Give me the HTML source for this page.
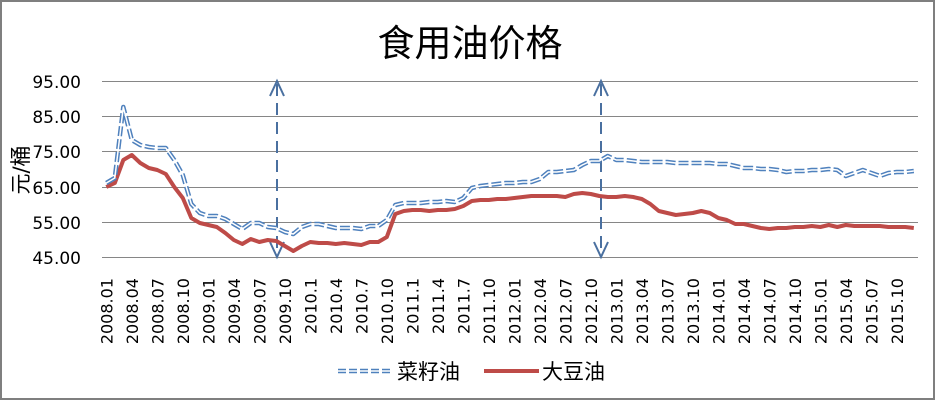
<!DOCTYPE html>
<html><head><meta charset="utf-8"><style>
html,body{margin:0;padding:0;background:#fff}
svg{display:block}
text{font-family:"DejaVu Sans","Noto Sans CJK SC",sans-serif}
</style></head><body>
<svg id="s" width="936" height="401" xmlns="http://www.w3.org/2000/svg">
<rect x="0" y="0" width="936" height="401" fill="#fff"/>
<rect x="1" y="1" width="933" height="398" fill="none" stroke="#7f7f7f" stroke-width="2"/>
<text x="470" y="56" font-size="37" text-anchor="middle" font-family="'Noto Sans CJK SC',sans-serif">食用油价格</text>
<g stroke="#868686" stroke-width="1">
<line x1="102" x2="918" y1="81.5" y2="81.5"/>
<line x1="102" x2="918" y1="116.5" y2="116.5"/>
<line x1="102" x2="918" y1="151.5" y2="151.5"/>
<line x1="102" x2="918" y1="187.5" y2="187.5"/>
<line x1="102" x2="918" y1="222.5" y2="222.5"/>
<line x1="102" x2="918" y1="257.5" y2="257.5"/>
</g>
<g font-size="17" text-anchor="end" fill="#000">
<text x="81" y="88">95.00</text><text x="81" y="123">85.00</text><text x="81" y="158">75.00</text>
<text x="81" y="194">65.00</text><text x="81" y="229">55.00</text><text x="81" y="264">45.00</text>
</g>
<text transform="translate(28,170) rotate(-90)" font-size="21" text-anchor="middle" font-family="'Noto Sans CJK SC',sans-serif">元/桶</text>
<g id="xl" font-size="16"></g>
<g stroke="#4a70a0" stroke-width="2" fill="none">
<line x1="277" y1="84" x2="277" y2="255" stroke-dasharray="12,7"/>
<polyline points="270,96 277,81 284,96"/><polyline points="270,242 277,257 284,242"/>
<line x1="601" y1="84" x2="601" y2="255" stroke-dasharray="12,7"/>
<polyline points="594,96 601,81 608,96"/><polyline points="594,242 601,257 608,242"/>
</g>
<polyline id="r" fill="none" stroke="#be4b48" stroke-width="4" stroke-linejoin="round"/>
<polyline id="b1" fill="none" stroke="#4f81bd" stroke-width="4.5" stroke-linejoin="round" stroke-dasharray="10,3"/>
<polyline id="b2" fill="none" stroke="#fff" stroke-width="1.5" stroke-linejoin="round"/>
<line x1="338" y1="371" x2="392" y2="371" stroke="#4f81bd" stroke-width="4.5" stroke-dasharray="8,3"/>
<line x1="338" y1="371" x2="392" y2="371" stroke="#fff" stroke-width="1.5"/>
<text x="397" y="379" font-size="21" font-family="'Noto Sans CJK SC',sans-serif">菜籽油</text>
<line x1="484" y1="371" x2="539" y2="371" stroke="#be4b48" stroke-width="4"/>
<text x="542" y="379" font-size="21" font-family="'Noto Sans CJK SC',sans-serif">大豆油</text>
</svg>
<script>
var R=[187,183,160,155,163,168,170,174,187,198,218,223,225,227,233,240,244,239,242,240,241,246,251,246,242,243,243,244,243,244,245,242,242,237,214,211,210,210,211,210,210,209,206,201,200,200,199,199,198,197,196,196,196,196,197,194,193,194,196,197,197,196,197,199,204,211,213,215,214,213,211,213,218,220,224,224,226,228,229,228,228,227,227,226,227,225,227,225,226,226,226,226,227,227,227,228];
var B=[183,178,107,140,145,147,148,148,160,175,204,213,216,216,219,224,229,223,223,227,228,232,234,227,224,224,226,228,228,228,229,226,226,220,205,203,203,203,202,202,201,202,198,188,186,185,184,183,183,182,182,179,172,172,171,170,165,161,161,156,160,160,161,162,162,162,162,163,163,163,163,163,164,164,166,168,168,169,169,170,172,171,171,170,170,169,170,176,173,170,173,176,173,172,172,171];
function X(i){return 102+(i+0.5)*8.5}
function pts(a){return a.map(function(y,i){return X(i).toFixed(1)+","+y}).join(" ")}
document.getElementById('r').setAttribute('points',pts(R));
document.getElementById('b1').setAttribute('points',pts(B));
document.getElementById('b2').setAttribute('points',pts(B));
var L=["2008.01","2008.04","2008.07","2008.10","2009.01","2009.04","2009.07","2009.10","2010.1","2010.4","2010.7","2010.10","2011.1","2011.4","2011.7","2011.10","2012.01","2012.04","2012.07","2012.10","2013.01","2013.04","2013.07","2013.10","2014.01","2014.04","2014.07","2014.10","2015.01","2015.04","2015.07","2015.10"];
var g=document.getElementById('xl'),h="";
L.forEach(function(t,k){var x=X(k*3)+6;h+='<text transform="translate('+x.toFixed(1)+',278) rotate(-90)" text-anchor="end">'+t+'</text>';});
g.innerHTML=h;
</script>
</body></html>
